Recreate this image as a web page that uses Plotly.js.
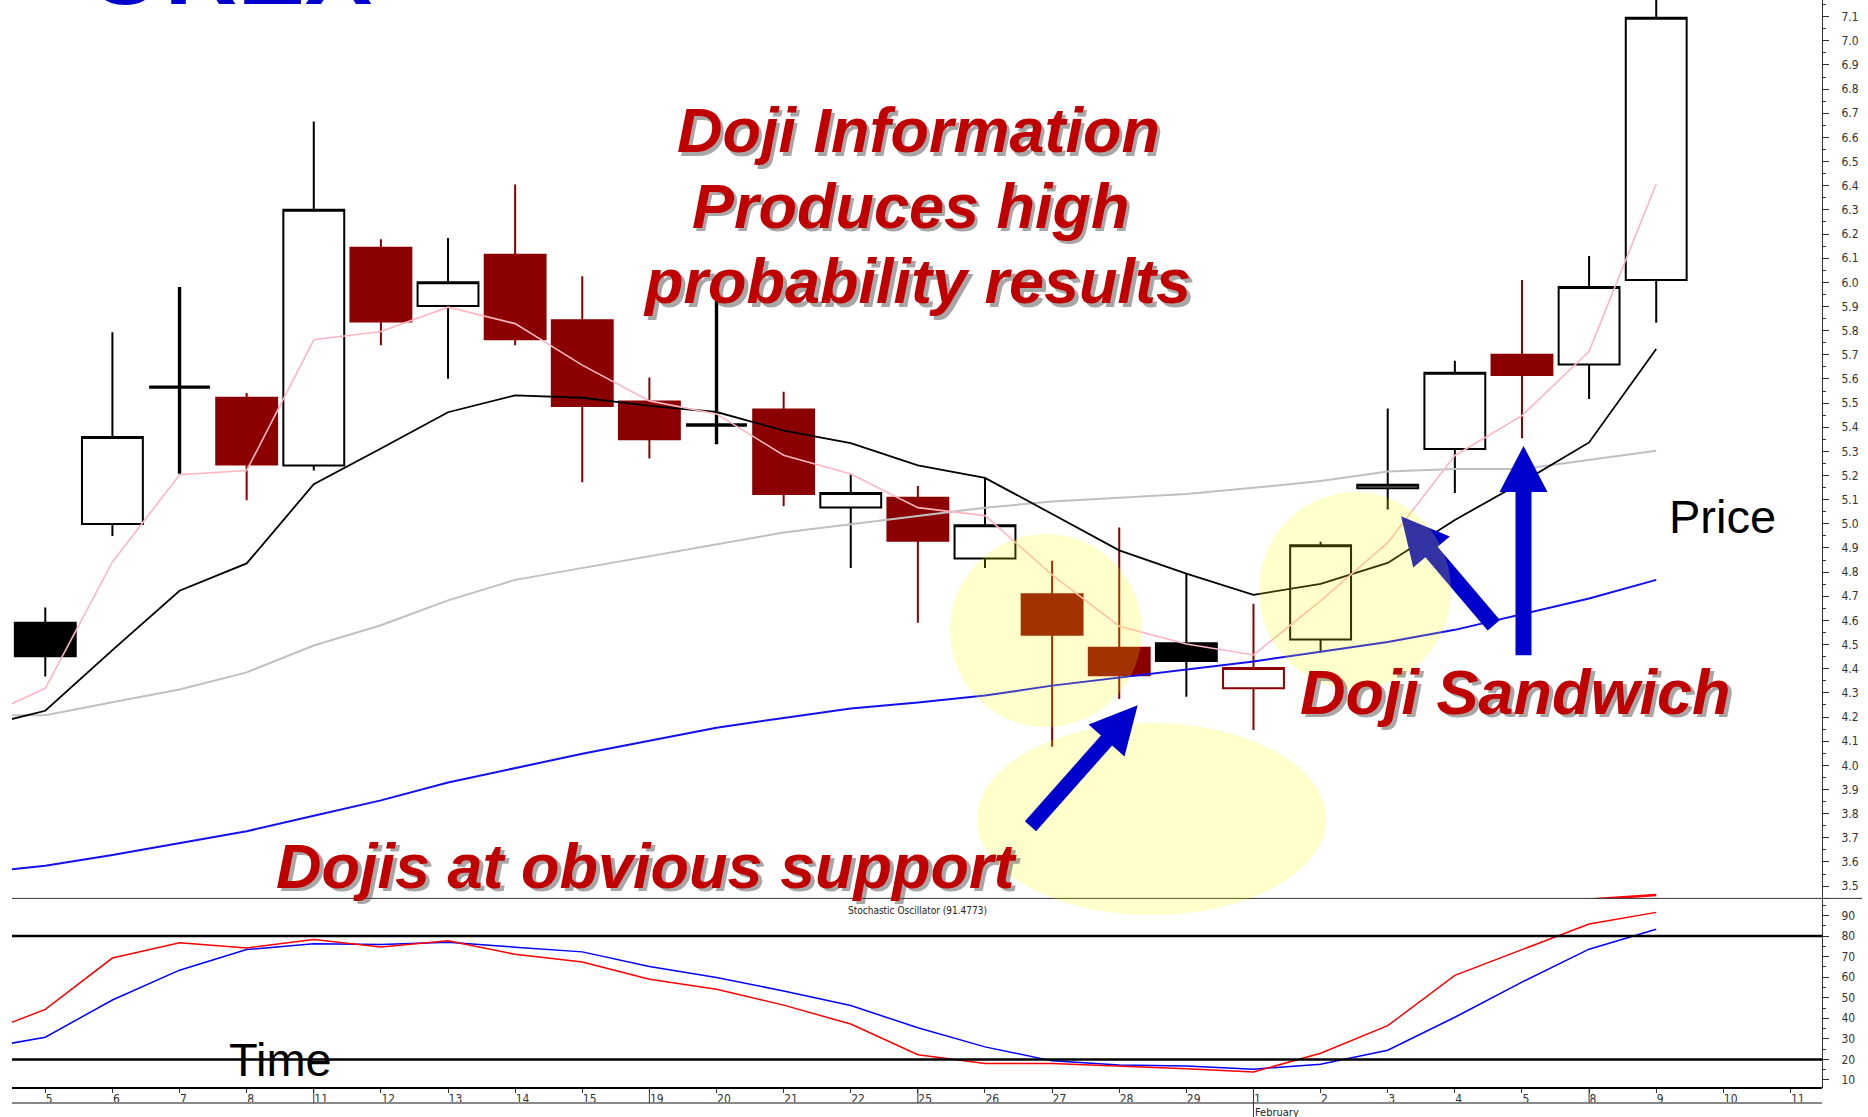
<!DOCTYPE html>
<html><head><meta charset="utf-8">
<script src="https://cdn.plot.ly/plotly-3.0.1.min.js"></script>
<style>html,body{margin:0;padding:0;background:#fff;overflow:hidden}</style>
</head><body>
<div id="chart" style="width:1868px;height:1117px"></div>
<script>
// ---------------- DATA ----------------
// trading days shown on the time axis (2010)
const tradingDays = ['2010-01-05','2010-01-06','2010-01-07','2010-01-08',
  '2010-01-11','2010-01-12','2010-01-13','2010-01-14','2010-01-15',
  '2010-01-19','2010-01-20','2010-01-21','2010-01-22',
  '2010-01-25','2010-01-26','2010-01-27','2010-01-28','2010-01-29',
  '2010-02-01','2010-02-02','2010-02-03','2010-02-04','2010-02-05',
  '2010-02-08','2010-02-09','2010-02-10','2010-02-11'];
const monthNames = ['January','February','March'];

// daily candles (Jan 5 .. Feb 9)
const candleOpen  = [4.590,4.999,5.566,5.522,5.241,6.143,5.902,6.114,5.843,5.507,5.409,5.473,5.068,5.108,4.856,4.708,4.487,4.506,4.319,4.521,5.147,5.310,5.700,5.660,6.010];
const candleHigh  = [4.654,5.793,5.981,5.542,6.666,6.178,6.183,6.405,6.025,5.606,5.922,5.547,5.207,5.157,5.192,4.847,4.985,4.792,4.669,4.926,5.478,5.675,6.010,6.109,7.250];
const candleLow   = [4.368,4.950,5.207,5.098,5.221,5.739,5.601,5.739,5.172,5.271,5.330,5.073,4.817,4.590,4.817,4.077,4.275,4.284,4.146,4.467,5.059,5.128,5.354,5.517,5.833];
const candleClose = [4.452,5.359,5.566,5.246,6.301,5.838,6.000,5.764,5.488,5.350,5.409,5.123,5.128,4.930,4.994,4.541,4.373,4.432,4.403,4.911,5.162,5.626,5.616,5.981,7.095];

// moving averages, first value = Jan 4 (one day before the visible window)
const maFast   = [4.191,4.319,4.842,5.203,5.221,5.762,5.796,5.897,5.829,5.657,5.509,5.455,5.284,5.206,5.067,5.034,4.789,4.576,4.502,4.457,4.681,4.922,5.283,5.448,5.714,6.407];
const maMid    = [4.157,4.226,4.477,4.723,4.836,5.164,5.312,5.462,5.532,5.522,5.488,5.463,5.386,5.334,5.242,5.190,5.041,4.890,4.794,4.706,4.751,4.838,5.016,5.172,5.337,5.724];
const maSlow   = [4.207,4.207,4.261,4.314,4.385,4.496,4.580,4.683,4.768,4.817,4.868,4.918,4.964,4.998,5.034,5.067,5.092,5.108,5.124,5.149,5.177,5.217,5.227,5.227,5.265,5.303];
const maLong   = [3.555,3.584,3.629,3.678,3.727,3.791,3.855,3.929,3.989,4.048,4.102,4.156,4.196,4.235,4.260,4.289,4.330,4.363,4.396,4.430,4.470,4.511,4.561,4.625,4.691,4.768];
// red line entering the bottom of the price panel (Feb 8, Feb 9)
const lowLineDays = ['2010-02-08','2010-02-09'];
const lowLine     = [3.444,3.463];

// stochastic oscillator, first value = Jan 4
const stochK = [31.7,44.3,69.3,76.7,74.2,78.3,74.7,77.7,71.1,67.4,59.0,54.1,46.4,37.2,22.3,18.0,18.0,16.8,15.5,13.9,23.0,36.4,60.9,73.4,85.8,91.5];
const stochD = [25.0,30.8,48.9,63.4,73.4,76.2,75.9,77.0,74.6,72.3,65.2,59.8,53.3,46.2,35.4,26.1,19.3,17.3,16.8,15.2,17.7,24.5,40.5,57.6,73.6,83.3];
const stochLevels = [80, 20];
const stochLabel = 'Stochastic Oscillator (91.4773)';

// ---------------- LAYOUT HELPERS ----------------
const W = 1868, H = 1117, PL = 12, PR = 1822, PT = 0, PB = 1088;
const X = px => (px - PL) / (PR - PL);
const Y = py => 1 - (py - PT) / (PB - PT);
const split = 1 - 898.4 / 1088;
const xr = [-0.496, 26.47];
const NARROW = 'Liberation Sans Narrow, Arial Narrow, DejaVu Sans Condensed, sans-serif';
const SANS = 'Liberation Sans, Arial, sans-serif';

const dayNum = d => parseInt(d.slice(8), 10);
const tickText = tradingDays.map(d => String(dayNum(d)));
const tickVals = tradingDays.map((d, i) => i);
const candleX = candleOpen.map((v, i) => i);
const maX = maFast.map((v, i) => i - 1);

// ---------------- CANDLES ----------------
const styles = {
  blackHollow: {line: '#000000', fill: '#ffffff', w: 2},
  blackFilled: {line: '#000000', fill: '#000000', w: 2},
  redHollow:   {line: '#8B0000', fill: '#ffffff', w: 2},
  redFilled:   {line: '#8B0000', fill: '#8B0000', w: 2},
  doji:        {line: '#000000', fill: '#000000', w: 3.4}
};
const groups = {};
candleClose.forEach((c, i) => {
  const prev = i > 0 ? candleClose[i - 1] : -Infinity;
  const col = c >= prev ? 'black' : 'red';
  let kind;
  if (candleOpen[i] === c) kind = 'doji';
  else kind = col + (c > candleOpen[i] ? 'Hollow' : 'Filled');
  (groups[kind] = groups[kind] || []).push(i);
});
const traces = [];
Object.keys(groups).forEach(k => {
  const idx = groups[k], s = styles[k];
  const st = {line: {color: s.line, width: s.w}, fillcolor: s.fill};
  traces.push({
    type: 'candlestick', xaxis: 'x', yaxis: 'y',
    x: idx.map(i => candleX[i]),
    open: idx.map(i => candleOpen[i]), high: idx.map(i => candleHigh[i]),
    low: idx.map(i => candleLow[i]), close: idx.map(i => candleClose[i]),
    increasing: st, decreasing: st, whiskerwidth: 0, showlegend: false, hoverinfo: 'skip'
  });
});
function line(x, y, color, width, xa, ya) {
  return {type: 'scatter', mode: 'lines', x: x, y: y, xaxis: xa, yaxis: ya,
    line: {color: color, width: width}, showlegend: false, hoverinfo: 'skip'};
}
traces.push(line(maX, maSlow, '#C0C0C0', 2, 'x', 'y'));
traces.push(line(maX, maLong, '#1010F0', 2, 'x', 'y'));
traces.push(line(maX, maMid, '#000000', 1.8, 'x', 'y'));
traces.push(line(maX, maFast, '#FFB6C1', 1.6, 'x', 'y'));
traces.push(line(lowLineDays.map(d => tradingDays.indexOf(d)), lowLine, '#FF0000', 2.5, 'x', 'y'));
traces.push(line(maX, stochD, '#0000FF', 1.5, 'x2', 'y2'));
traces.push(line(maX, stochK, '#FF0000', 1.5, 'x2', 'y2'));

// ---------------- SHAPES ----------------
const shapes = [];
shapes.push({type: 'line', xref: 'paper', yref: 'paper', x0: 0, x1: X(1862), y0: Y(898.4), y1: Y(898.4), line: {color: '#333', width: 1}});
shapes.push({type: 'line', xref: 'paper', yref: 'paper', x0: 0, x1: 1, y0: Y(1088), y1: Y(1088), line: {color: '#000', width: 2}});
shapes.push({type: 'line', xref: 'paper', yref: 'paper', x0: 0, x1: 1, y0: Y(1103), y1: Y(1103), line: {color: '#888', width: 2}});
stochLevels.forEach(v => shapes.push({type: 'line', xref: 'paper', yref: 'y2', x0: 0, x1: 1, y0: v, y1: v, line: {color: '#000', width: 2.5}}));
// week / month separators on the time strip
const xp = i => (i - xr[0]) / (xr[1] - xr[0]);
tradingDays.forEach((d, i) => {
  if (i === 0) return;
  const cur = new Date(d), prv = new Date(tradingDays[i - 1]);
  const gap = (cur - prv) / 86400000;
  const newMonth = cur.getUTCMonth() !== prv.getUTCMonth();
  if (gap > 1 || newMonth) {
    shapes.push({type: 'line', xref: 'paper', yref: 'paper', x0: xp(i), x1: xp(i),
      y0: Y(1088), y1: Y(newMonth ? 1117 : 1103), line: {color: '#333', width: 1}});
  }
});
function arrowPath(tail, tip, hs, hl, hh) {
  const dx = tip[0] - tail[0], dy = tip[1] - tail[1], len = Math.hypot(dx, dy);
  const ux = dx / len, uy = dy / len, nx = -uy, ny = ux;
  const bx = tip[0] - ux * hl, by = tip[1] - uy * hl;
  const pts = [[tail[0] + nx * hs, tail[1] + ny * hs], [bx + nx * hs, by + ny * hs],
    [bx + nx * hh, by + ny * hh], tip, [bx - nx * hh, by - ny * hh],
    [bx - nx * hs, by - ny * hs], [tail[0] - nx * hs, tail[1] - ny * hs]];
  return 'M' + pts.map(p => X(p[0]).toFixed(5) + ',' + Y(p[1]).toFixed(5)).join('L') + 'Z';
}
const arrowStyle = {type: 'path', xref: 'paper', yref: 'paper', fillcolor: '#0000CC', line: {width: 0}, layer: 'above'};
const ell = (x0, x1, y0, y1) => ({type: 'circle', xref: 'paper', yref: 'paper', x0: X(x0), x1: X(x1), y0: Y(y1), y1: Y(y0),
  fillcolor: 'rgba(255,255,0,0.2)', line: {width: 0}, layer: 'above'});
shapes.push(Object.assign({path: arrowPath([1493.8, 625.3], [1401.1, 516.2], 8, 47, 24)}, arrowStyle));
shapes.push(ell(950, 1142, 534, 727));
shapes.push(ell(977, 1326, 723, 915));
shapes.push(ell(1259, 1451, 492, 689));
shapes.push(Object.assign({path: arrowPath([1030.5, 826.3], [1137.7, 705.3], 7.5, 47, 24)}, arrowStyle));
shapes.push(Object.assign({path: arrowPath([1523.5, 655.3], [1523.5, 445.9], 8, 46, 24)}, arrowStyle));

// ---------------- ANNOTATIONS ----------------
const annotations = [];
function txt(text, cx, baseline, size, color, opts) {
  opts = opts || {};
  const a = {xref: 'paper', yref: 'paper', x: X(cx), y: Y(baseline - 0.3465 * size),
    xanchor: 'center', yanchor: 'middle', showarrow: false, text: text,
    font: {family: opts.family || SANS, size: size, color: color}};
  if (opts.shadow) {
    annotations.push(Object.assign({}, a, {xshift: 3.5, yshift: -3.5, font: {family: a.font.family, size: size, color: 'rgba(80,80,80,0.5)'}}));
  }
  annotations.push(a);
}
const RED = '#C00000';
txt('<b><i>Doji Information</i></b>', 918.5, 152, 63, RED, {shadow: true});
txt('<b><i>Produces high</i></b>', 910.5, 227.5, 63, RED, {shadow: true});
txt('<b><i>probability results</i></b>', 917.5, 303, 63, RED, {shadow: true});
txt('<b><i>Dojis at obvious support</i></b>', 647, 887.5, 63, RED, {shadow: true});
txt('<b><i>Doji Sandwich</i></b>', 1515.5, 713.5, 63, RED, {shadow: true});
txt('Price', 1722.5, 533.2, 47, '#000');
txt('Time', 280.3, 1076.2, 47, '#000');
txt('<b>OREX</b>', 229, 4, 101, '#0000CC');
txt(stochLabel, 917, 913.5, 10, '#222', {family: NARROW});
tradingDays.forEach((d, i) => {
  if (i > 0 && new Date(d).getUTCMonth() !== new Date(tradingDays[i - 1]).getUTCMonth()) {
    annotations.push({xref: 'x2', yref: 'paper', x: i, xanchor: 'left', xshift: 0,
      y: Y(1112), yanchor: 'middle', showarrow: false,
      text: monthNames[new Date(d).getUTCMonth()], font: {family: NARROW, size: 11, color: '#222'}});
  }
});

// ---------------- AXES ----------------
const yCommon = {side: 'right', showline: true, linecolor: '#333', linewidth: 1,
  ticks: 'outside', ticklen: 6, tickcolor: '#333', tickwidth: 1,
  showgrid: false, zeroline: false, ticklabelstandoff: 10,
  tickfont: {family: NARROW, size: 12, color: '#333'}};
const layout = {
  width: W, height: H, autosize: false,
  margin: {l: PL, r: W - PR, t: PT, b: H - PB, pad: 0},
  paper_bgcolor: '#fff', plot_bgcolor: '#fff',
  showlegend: false, hovermode: false, dragmode: false,
  boxgap: 0.093, boxgroupgap: 0,
  font: {family: SANS},
  xaxis: {domain: [0, 1], range: xr, anchor: 'y', showticklabels: false, ticks: '',
    showgrid: false, zeroline: false, showline: false, rangeslider: {visible: false}, fixedrange: true},
  xaxis2: {domain: [0, 1], range: xr, anchor: 'y2', tickmode: 'array', tickvals: tickVals, ticktext: tickText,
    ticks: 'outside', ticklen: 4, tickcolor: '#333', tickwidth: 1, ticklabelposition: 'outside right',
    tickfont: {family: NARROW, size: 12, color: '#333'}, showgrid: false, zeroline: false, showline: false,
    rangeslider: {visible: false}, fixedrange: true},
  yaxis: Object.assign({domain: [split, 1], range: [3.449, 7.169], anchor: 'x', tick0: 0, dtick: 0.1, tickformat: '.1f',
    minor: {dtick: 0.05, ticks: 'outside', ticklen: 3, tickcolor: '#333'}}, yCommon),
  yaxis2: Object.assign({domain: [0, split], range: [6.1, 98.3], anchor: 'x2', tick0: 0, dtick: 10,
    minor: {dtick: 5, ticks: 'outside', ticklen: 3, tickcolor: '#333'}}, yCommon),
  shapes: shapes,
  annotations: annotations
};
Plotly.newPlot('chart', traces, layout, {staticPlot: true, displayModeBar: false});
</script>
</body></html>
